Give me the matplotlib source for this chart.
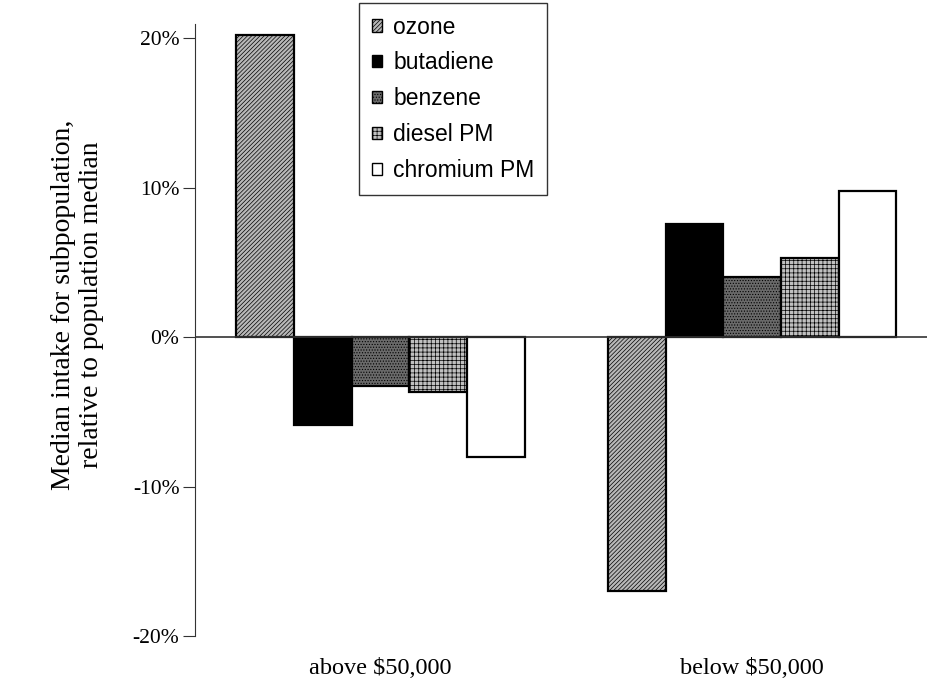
import numpy as np
import matplotlib
matplotlib.use("Agg")
import matplotlib.pyplot as plt

groups = ["above $50,000", "below $50,000"]
pollutants = ["ozone", "butadiene", "benzene", "diesel PM", "chromium PM"]
ozone = [20.2, -17.0]
butadiene = [-5.9, 7.6]
benzene = [-3.3, 4.0]
diesel = [-3.7, 5.3]
chromium = [-8.0, 9.8]
yticks = [-20, -10, 0, 10, 20]

series = [ozone, butadiene, benzene, diesel, chromium]
faces = ["#b8b8b8", "black", "#6a6a6a", "#c0c0c0", "white"]
hatches = ["////////", None, "......", "++++", None]

plt.rcParams["hatch.linewidth"] = 0.5

fig = plt.figure(figsize=(9.27, 6.85), dpi=100)
ax = fig.add_axes([0.210, 0.0715, 0.79, 0.8935])

x = np.arange(len(groups))
w = 0.155
for i, (vals, fc, h, name) in enumerate(zip(series, faces, hatches, pollutants)):
    ax.bar(x + (i - 2) * w, vals, w, color=fc, edgecolor="black", hatch=h,
           linewidth=1.6, label=name)

ax.axhline(0, color="#333333", lw=1.2)
ax.set_xlim(-0.5, 1.47)
ax.set_ylim(-20, 20.95)
ax.set_yticks(yticks)
ax.set_yticklabels([f"{t}%" for t in yticks], family="Liberation Serif", fontsize=15.5)
ax.set_xticks(x)
ax.set_xticklabels(groups, family="Liberation Serif", fontsize=17.5)
ax.tick_params(axis="x", length=0, pad=16)
ax.tick_params(axis="y", direction="out", length=9, pad=2, color="#333333")
for s in ["top", "right", "bottom"]:
    ax.spines[s].set_visible(False)
ax.spines["left"].set_color("#333333")

ax.set_ylabel("Median intake for subpopulation,\nrelative to population median",
              family="Liberation Serif", fontsize=20, linespacing=1.15)
# label centre sits a little above the axes centre in the original
ax.yaxis.set_label_coords((104 - 195) / 732.3, (685 - 305 - 49) / 612)

leg = ax.legend(loc="upper left", bbox_to_anchor=(359 / 927, 1 - 3 / 685),
                bbox_transform=fig.transFigure, borderaxespad=0, frameon=True,
                fancybox=False, edgecolor="black", handlelength=0.45, handleheight=0.45,
                handletextpad=0.5, labelspacing=0.56, borderpad=0.55,
                prop={"family": "Liberation Sans", "size": 16.5})
leg.get_frame().set_linewidth(1.0)
for p in leg.get_patches():
    p.set_linewidth(1.0)

fig.savefig("out.png", dpi=100)
